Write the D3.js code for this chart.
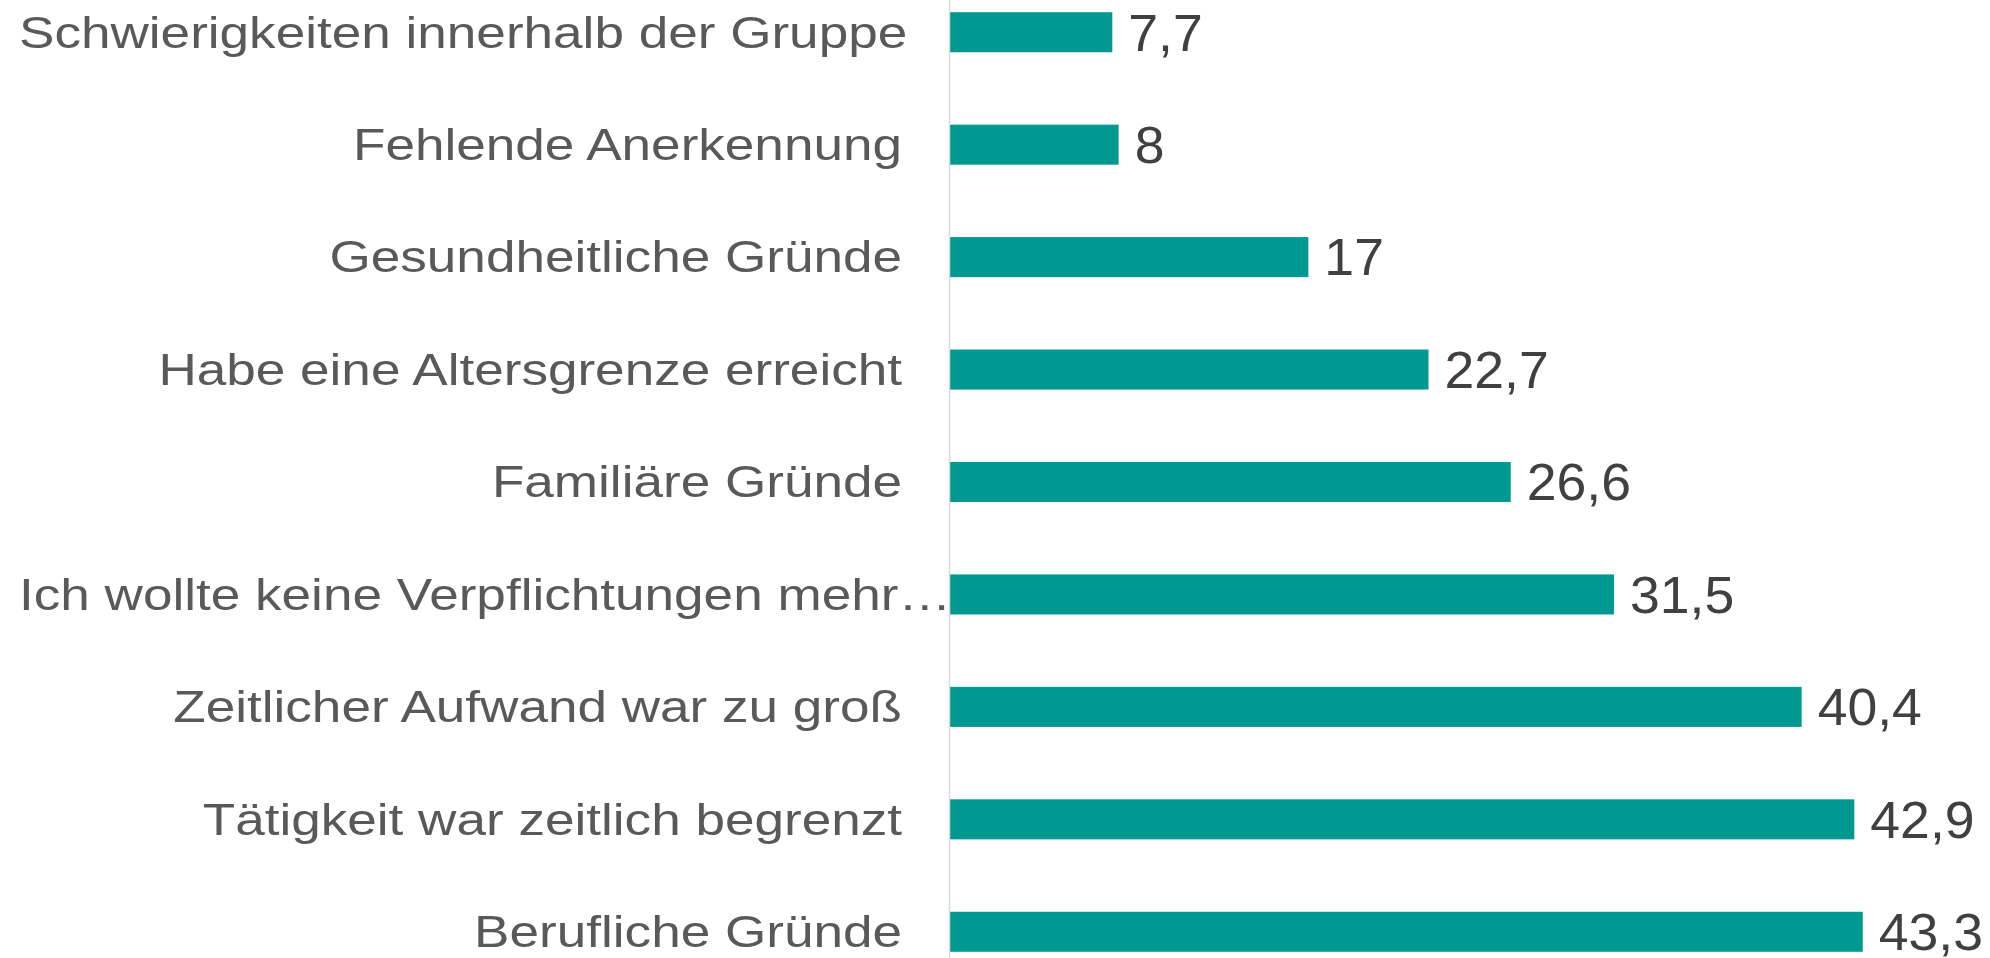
<!DOCTYPE html>
<html>
<head>
<meta charset="utf-8">
<script src="https://cdn.jsdelivr.net/npm/d3@7"></script>
<style>
  html, body { margin: 0; padding: 0; background: #fff; }
  svg { display: block; }
</style>
</head>
<body>
<svg id="chart" width="1990" height="958"></svg>
<script>
// categories, top to bottom
const categories = [
  'Schwierigkeiten innerhalb der Gruppe',
  'Fehlende Anerkennung',
  'Gesundheitliche Gründe',
  'Habe eine Altersgrenze erreicht',
  'Familiäre Gründe',
  'Ich wollte keine Verpflichtungen mehr…',
  'Zeitlicher Aufwand war zu groß',
  'Tätigkeit war zeitlich begrenzt',
  'Berufliche Gründe'
]
const values = [7.7, 8, 17, 22.7, 26.6, 31.5, 40.4, 42.9, 43.3]

const width = 1990
const height = 958
const axisX = 950
const labelGap = 48
const labelMinX = 19
// the source renders its text a little wider than the font's natural width
const labelStretch = 1.18
const valueStretch = 1.05

const data = categories.map((c, i) => ({ category: c, value: values[i] }))

const svg = d3.select('#chart')

const xScale = d3.scaleLinear().domain([0, 50]).range([axisX, axisX + 50 * 21.08])

const yScale = d3
  .scaleBand()
  .domain(categories)
  .range([-24, 988])
  .paddingInner(0.644)
  .paddingOuter(0.322)

const fmt = (v) => String(v).replace('.', ',')
const midY = (d) => yScale(d.category) + yScale.bandwidth() / 2

// bars
svg
  .append('g')
  .attr('id', 'bars')
  .selectAll('rect')
  .data(data)
  .join('rect')
  .attr('x', xScale(0))
  .attr('y', (d) => yScale(d.category))
  .attr('width', (d) => xScale(d.value) - xScale(0))
  .attr('height', yScale.bandwidth())
  .attr('fill', '#009991')

// vertical axis line
svg
  .append('line')
  .attr('x1', axisX - 0.5)
  .attr('x2', axisX - 0.5)
  .attr('y1', 0)
  .attr('y2', height)
  .attr('stroke', '#d9d9d9')
  .attr('stroke-width', 1.5)

// category labels
const labels = svg
  .append('g')
  .attr('id', 'labels')
  .selectAll('text')
  .data(data)
  .join('text')
  .attr('transform', (d) => `translate(${axisX - labelGap},${midY(d)}) scale(${labelStretch},1)`)
  .attr('dy', '0.34em')
  .attr('text-anchor', 'end')
  .attr('font-family', 'Liberation Sans, Arial, sans-serif')
  .attr('font-size', 45)
  .attr('fill', '#595959')
  .text((d) => d.category)

// long labels that would run off the left edge start at the margin instead
labels.each(function (d) {
  const w = this.getComputedTextLength() * labelStretch
  if (axisX - labelGap - w < labelMinX) {
    d3.select(this)
      .attr('text-anchor', 'start')
      .attr('transform', `translate(${labelMinX},${midY(d)}) scale(${labelStretch},1)`)
  }
})

// value labels
svg
  .append('g')
  .attr('id', 'values')
  .selectAll('text')
  .data(data)
  .join('text')
  .attr('transform', (d) => `translate(${xScale(d.value) + 16},${midY(d)}) scale(${valueStretch},1)`)
  .attr('dy', '0.36em')
  .attr('font-family', 'Liberation Sans, Arial, sans-serif')
  .attr('font-size', 51)
  .attr('fill', '#404040')
  .text((d) => fmt(d.value))
</script>
</body>
</html>
